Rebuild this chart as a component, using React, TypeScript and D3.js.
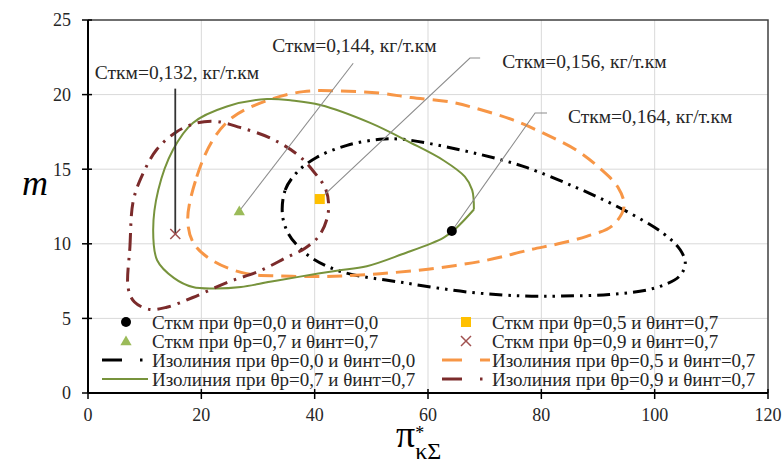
import React from 'react';
import * as d3 from 'd3';

type P = [number, number];

const xTicks = [0, 20, 40, 60, 80, 100, 120];
const yTicks = [0, 5, 10, 15, 20, 25];

// Isoline θр=0,0 и θинт=0,0 (closed)
const iso00: P[] = [
  [34.3, 12.0], [34.8, 13.6], [36.9, 14.8], [40.4, 15.8], [45.7, 16.6], [51.5, 17.0],
  [55.6, 17.0], [65.6, 16.3], [73.2, 15.6], [77.5, 15.1], [86, 13.8], [93.9, 12.4],
  [101.5, 10.7], [104.5, 9.6], [105.4, 8.7], [104.3, 7.8], [99.7, 7.0], [92, 6.6],
  [83.8, 6.5], [76.8, 6.5], [67.4, 6.75], [55.6, 7.4], [45, 8.1], [39.7, 9.0],
  [36.9, 9.9], [35.2, 10.8],
];

// Isoline θр=0,5 и θинт=0,7 (closed)
const iso57: P[] = [
  [17.6, 11.6], [19.2, 14.5], [22.1, 17.0], [25.6, 18.5], [31.6, 19.6], [38, 20.2],
  [44, 20.25], [51.5, 20.1], [57, 19.8], [64, 19.5], [69.2, 19.0], [75, 18.3],
  [81, 17.3], [86.5, 16.2], [90.5, 15.0], [93.5, 13.8], [94.6, 12.5], [92.5, 11.2],
  [88, 10.5], [83, 10.0], [78, 9.6], [70.4, 8.9], [60, 8.3], [51.5, 8.0], [45, 7.85],
  [40, 7.8], [34, 7.85], [28, 8.0], [22.3, 8.8], [18.7, 10.0],
];

// Isoline θр=0,7 и θинт=0,7 (closed, kink at the right end)
const iso77: P[] = [
  [68.1, 12.3], [67.8, 13.6], [66.5, 14.5], [62.7, 15.6], [56.8, 16.8], [49.8, 18.1],
  [41, 19.3], [36, 19.6], [31.6, 19.7], [24.5, 19.2], [18.5, 18.1], [15, 16.3],
  [12.4, 13.6], [11.5, 10.9], [12.2, 8.9], [15.2, 7.7], [18.5, 7.1], [22.1, 7.0],
  [27, 7.1], [32.1, 7.45], [37.4, 7.8], [43.9, 8.2], [49.2, 8.5], [55.4, 9.3],
  [62.7, 10.4], [65.1, 11.1], [68.1, 12.3],
];

// Isoline θр=0,9 и θинт=0,7 (closed)
const iso97: P[] = [
  [7.1, 7.0], [7.4, 9.8], [8.0, 12.9], [9.7, 14.7], [12.1, 16.3], [15.6, 17.5],
  [19.2, 18.1], [22.7, 18.2], [26.8, 17.8], [32.1, 17.1], [36.9, 16.0], [39.7, 14.9],
  [42.0, 13.6], [42.4, 12.1], [40.9, 10.6], [38.3, 9.7], [35.1, 9.1], [30.4, 8.2],
  [24.5, 7.4], [18.5, 6.4], [13.9, 5.75], [10.9, 5.6], [8.2, 6.1],
];

// Optimum points
const pt00: P = [64.2, 10.86];
const pt57: P = [40.9, 13.0];
const pt77: P = [26.7, 12.2];
const pt97: P = [15.4, 10.66];

// Annotation labels: text, text anchor (data), leader start, leader elbow, target
const annTexts = ['Сткм=0,132, кг/т.км', 'Сткм=0,144, кг/т.км', 'Сткм=0,156, кг/т.км', 'Сткм=0,164, кг/т.км'];
const annTextPos: P[] = [[1.2, 21.05], [32.5, 22.85], [73.1, 21.8], [84.7, 18.1]];
const annLineStart: P[] = [[15.4, 20.4], [46.8, 22.1], [69.2, 22.45], [81, 18.77]];
const annLineElbow: P[] = [[15.4, 20.4], [46.8, 22.1], [67.4, 22.45], [78.9, 18.77]];
const annTargets: P[] = [pt97, pt77, pt57, pt00];

const legendLabels = [
  'Сткм при θр=0,0 и θинт=0,0',
  'Сткм при θр=0,5 и θинт=0,7',
  'Сткм при θр=0,7 и θинт=0,7',
  'Сткм при θр=0,9 и θинт=0,7',
  'Изолиния при θр=0,0 и θинт=0,0',
  'Изолиния при θр=0,5 и θинт=0,7',
  'Изолиния при θр=0,7 и θинт=0,7',
  'Изолиния при θр=0,9 и θинт=0,7',
];

const W = 782, H = 464;
const X0 = 88, X1 = 768, Y0 = 20, Y1 = 393;
const FONT = "'Liberation Serif'";

const C_BLACK = '#000000';
const C_ORANGE = '#F79646';
const C_GREEN = '#77933C';
const C_RED = '#7B2B2B';
const C_SQ = '#FFC000';
const C_TRI = '#9BBB59';
const C_X = '#A0504F';

const DASH_BLACK = '13 6 2.5 6 2.5 6';
const DASH_ORANGE = '15 8';
const DASH_RED = '14 7 2.5 7';

export default function App() {
  const xs = d3.scaleLinear().domain([0, 120]).range([X0, X1]);
  const ys = d3.scaleLinear().domain([0, 25]).range([Y1, Y0]);

  const closed = d3.line<P>().x(d => xs(d[0])).y(d => ys(d[1])).curve(d3.curveCatmullRomClosed.alpha(0.5));
  const open = d3.line<P>().x(d => xs(d[0])).y(d => ys(d[1])).curve(d3.curveCatmullRom.alpha(0.5));

  const tri = d3.symbol().type(d3.symbolTriangle).size(55)();
  const ts = { fontFamily: FONT };

  const marker = (kind: number, cx: number, cy: number) => {
    if (kind === 0) return <circle cx={cx} cy={cy} r={5} fill={C_BLACK} />;
    if (kind === 1) return <rect x={cx - 5} y={cy - 5} width={10} height={10} fill={C_SQ} />;
    if (kind === 2) return <path d={tri as string} transform={`translate(${cx},${cy + 1})`} fill={C_TRI} />;
    return (
      <g stroke={C_X} strokeWidth={1.5}>
        <line x1={cx - 5} y1={cy - 5} x2={cx + 5} y2={cy + 5} />
        <line x1={cx - 5} y1={cy + 5} x2={cx + 5} y2={cy - 5} />
      </g>
    );
  };

  const legendLine = (kind: number, lx0: number, lx1: number, y: number) => {
    if (kind === 0)
      return (
        <g>
          <line x1={lx0} y1={y} x2={lx0 + 20} y2={y} stroke={C_BLACK} strokeWidth={3} />
          <line x1={lx0 + 38} y1={y} x2={lx0 + 40.5} y2={y} stroke={C_BLACK} strokeWidth={3} />
        </g>
      );
    if (kind === 1)
      return (
        <g>
          <line x1={lx0} y1={y} x2={lx0 + 20} y2={y} stroke={C_ORANGE} strokeWidth={3} />
          <line x1={lx0 + 38} y1={y} x2={lx1} y2={y} stroke={C_ORANGE} strokeWidth={3} />
        </g>
      );
    if (kind === 2)
      return <line x1={lx0} y1={y} x2={lx1} y2={y} stroke={C_GREEN} strokeWidth={2} />;
    return (
      <g>
        <line x1={lx0} y1={y} x2={lx0 + 20} y2={y} stroke={C_RED} strokeWidth={3} />
        <line x1={lx0 + 38} y1={y} x2={lx0 + 40.5} y2={y} stroke={C_RED} strokeWidth={3} />
      </g>
    );
  };

  const rowY = [322, 341, 360, 379];
  const cols = [
    { lx0: 102, lx1: 148, mx: 126, tx: 152 },
    { lx0: 442, lx1: 490, mx: 466, tx: 492 },
  ];
  const slots: [number, number, number][] = [
    [0, 0, 0], [1, 0, 1], [0, 1, 2], [1, 1, 3],
  ];

  return (
    <svg width={W} height={H} style={{ position: 'absolute', left: 0, top: 0, background: '#fff', fontFamily: FONT }}>
      <rect x={0} y={0} width={W} height={H} fill="#fff" />
      {xTicks.slice(1, -1).map(t => (
        <line key={'gx' + t} x1={xs(t)} x2={xs(t)} y1={Y0} y2={Y1} stroke="#d9d9d9" strokeWidth={1} />
      ))}
      {yTicks.slice(1, -1).map(t => (
        <line key={'gy' + t} x1={X0} x2={X1} y1={ys(t)} y2={ys(t)} stroke="#d9d9d9" strokeWidth={1} />
      ))}
      <path d={`M${X0},${Y0}H${X1}V${Y1}`} fill="none" stroke="#404040" strokeWidth={1.5} />

      <path d={closed(iso00) as string} fill="none" stroke={C_BLACK} strokeWidth={3} strokeDasharray={DASH_BLACK} />
      <path d={closed(iso57) as string} fill="none" stroke={C_ORANGE} strokeWidth={3} strokeDasharray={DASH_ORANGE} />
      <path d={open(iso77) as string} fill="none" stroke={C_GREEN} strokeWidth={2} />
      <path d={closed(iso97) as string} fill="none" stroke={C_RED} strokeWidth={3} strokeDasharray={DASH_RED} />

      {annTexts.map((t, i) => {
        const s = annLineStart[i], e = annLineElbow[i], tg = annTargets[i];
        return (
          <path key={'ld' + i}
            d={`M${xs(s[0])},${ys(s[1])}L${xs(e[0])},${ys(e[1])}L${xs(tg[0])},${ys(tg[1])}`}
            fill="none" stroke={i === 0 ? '#333' : '#8c8c8c'} strokeWidth={i === 0 ? 1.8 : 1.1} />
        );
      })}

      {marker(0, xs(pt00[0]), ys(pt00[1]))}
      {marker(1, xs(pt57[0]), ys(pt57[1]))}
      {marker(2, xs(pt77[0]), ys(pt77[1]))}
      {marker(3, xs(pt97[0]), ys(pt97[1]))}

      {annTexts.map((t, i) => (
        <text key={'at' + i} x={xs(annTextPos[i][0])} y={ys(annTextPos[i][1])} fontSize={19.5} fill="#262626" style={ts}>{t}</text>
      ))}

      <line x1={X0} x2={X0} y1={Y0} y2={Y1} stroke="#000" strokeWidth={2} />
      <line x1={X0} x2={X1} y1={Y1} y2={Y1} stroke="#000" strokeWidth={2} />
      {yTicks.map(t => (
        <g key={'yt' + t}>
          <line x1={X0 - 6} x2={X0 + 4} y1={ys(t)} y2={ys(t)} stroke="#000" strokeWidth={1.5} />
          <text x={X0 - 17} y={ys(t)} dy="0.35em" textAnchor="end" fontSize={18} fill="#262626" style={ts}>{t}</text>
        </g>
      ))}
      {xTicks.map(t => (
        <g key={'xt' + t}>
          <line x1={xs(t)} x2={xs(t)} y1={Y1 - 4} y2={Y1 + 6} stroke="#000" strokeWidth={1.5} />
          <text x={xs(t)} y={Y1 + 22} dy="0.35em" textAnchor="middle" fontSize={18} fill="#262626" style={ts}>{t}</text>
        </g>
      ))}

      <text x={22} y={195} fontSize={36} fontStyle="italic" fill="#000" style={ts}>m</text>
      <text x={396} y={447} fontSize={38} fill="#000" style={ts}>
        π
        <tspan fontSize={18} dy={-8}>*</tspan>
        <tspan fontSize={24} dx={-9} dy={20}>κΣ</tspan>
      </text>

      {slots.map(([c, r, k]) => (
        <g key={'lm' + k}>
          {marker(k, cols[c].mx, rowY[r])}
          <text x={cols[c].tx} y={rowY[r]} dy="0.35em" fontSize={19} fill="#262626" style={ts}>{legendLabels[k]}</text>
        </g>
      ))}
      {slots.map(([c, r, k]) => (
        <g key={'ll' + k}>
          {legendLine(k, cols[c].lx0, cols[c].lx1, rowY[r + 2])}
          <text x={cols[c].tx} y={rowY[r + 2]} dy="0.35em" fontSize={19} fill="#262626" style={ts}>{legendLabels[k + 4]}</text>
        </g>
      ))}
    </svg>
  );
}
